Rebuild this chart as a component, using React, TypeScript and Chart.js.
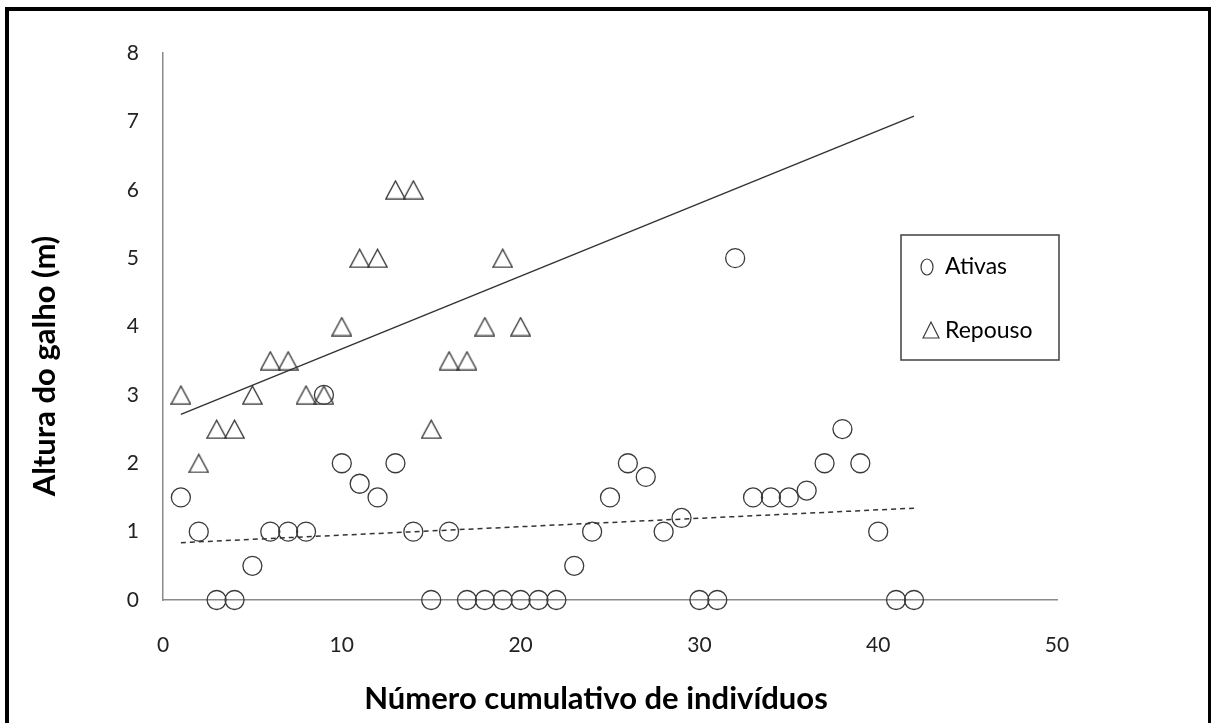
import React, { useEffect, useRef } from "react";
import { Chart, registerables } from "chart.js";

Chart.register(...registerables);

// ---- data ----
const ativasIndividuos = [
  1, 2, 3, 4, 5, 6, 7, 8, 9, 10, 11, 12, 13, 14, 15, 16, 17, 18, 19, 20, 21,
  22, 23, 24, 25, 26, 27, 28, 29, 30, 31, 32, 33, 34, 35, 36, 37, 38, 39, 40, 41, 42,
];
const ativasAltura = [
  1.5, 1, 0, 0, 0.5, 1, 1, 1, 3, 2, 1.7, 1.5, 2, 1, 0, 1, 0, 0, 0, 0, 0,
  0, 0.5, 1, 1.5, 2, 1.8, 1, 1.2, 0, 0, 5, 1.5, 1.5, 1.5, 1.6, 2, 2.5, 2, 1, 0, 0,
];
const repousoIndividuos = [1, 2, 3, 4, 5, 6, 7, 8, 9, 10, 11, 12, 13, 14, 15, 16, 17, 18, 19, 20];
const repousoAltura = [3, 2, 2.5, 2.5, 3, 3.5, 3.5, 3, 3, 4, 5, 5, 6, 6, 2.5, 3.5, 3.5, 4, 5, 4];
const trendRange = [1, 42];
const xTicks = [0, 10, 20, 30, 40, 50];
const yTicks = [0, 1, 2, 3, 4, 5, 6, 7, 8];
const seriesLabels = ["Ativas", "Repouso"];
const xTitle = "Número cumulativo de indivíduos";
const yTitle = "Altura do galho (m)";

const FONT = "Lato, 'Open Sans', sans-serif";
const INK = "#3a3a3a";

function linearFit(xs: number[], ys: number[]) {
  const n = xs.length;
  const mx = xs.reduce((a, b) => a + b, 0) / n;
  const my = ys.reduce((a, b) => a + b, 0) / n;
  let sxy = 0;
  let sxx = 0;
  for (let i = 0; i < n; i++) {
    sxy += (xs[i] - mx) * (ys[i] - my);
    sxx += (xs[i] - mx) * (xs[i] - mx);
  }
  const slope = sxy / sxx;
  const intercept = my - slope * mx;
  return (x: number) => intercept + slope * x;
}

function makeTriangle(w: number, h: number, color: string, lw: number) {
  const c = document.createElement("canvas");
  c.width = w;
  c.height = h;
  const ctx = c.getContext("2d")!;
  ctx.strokeStyle = color;
  ctx.lineWidth = lw;
  ctx.lineJoin = "miter";
  ctx.beginPath();
  ctx.moveTo(lw / 2 + 0.2, h - lw / 2 - 0.2);
  ctx.lineTo(w / 2, lw / 2 + 0.5);
  ctx.lineTo(w - lw / 2 - 0.2, h - lw / 2 - 0.2);
  ctx.closePath();
  ctx.stroke();
  return c;
}

const titlesLegendPlugin = {
  id: "titlesLegend",
  afterDraw(chart: any) {
    const ctx = chart.ctx as CanvasRenderingContext2D;
    ctx.save();
    // axis titles
    ctx.fillStyle = "#000";
    ctx.font = `bold 31px ${FONT}`;
    ctx.textAlign = "center";
    ctx.textBaseline = "middle";
    ctx.fillText(xTitle, 587, 688);
    ctx.translate(36, 355);
    ctx.rotate(-Math.PI / 2);
    ctx.fillText(yTitle, 0, 0);
    ctx.restore();

    // legend box
    ctx.save();
    const bx = 892;
    const by = 224;
    const bw = 158;
    const bh = 125;
    ctx.strokeStyle = "#404040";
    ctx.lineWidth = 1.5;
    ctx.strokeRect(bx, by, bw, bh);
    ctx.fillStyle = "#000";
    ctx.font = `23px ${FONT}`;
    ctx.textAlign = "left";
    ctx.textBaseline = "alphabetic";
    // circle item
    ctx.strokeStyle = INK;
    ctx.lineWidth = 1.2;
    ctx.beginPath();
    ctx.ellipse(bx + 26, by + 32, 6, 8, 0, 0, Math.PI * 2);
    ctx.stroke();
    ctx.fillText(seriesLabels[0], bx + 44, by + 39);
    // triangle item
    ctx.beginPath();
    ctx.moveTo(bx + 22, by + 103);
    ctx.lineTo(bx + 30, by + 87);
    ctx.lineTo(bx + 38, by + 103);
    ctx.closePath();
    ctx.stroke();
    ctx.fillText(seriesLabels[1], bx + 44, by + 103);
    ctx.restore();
  },
};

export default function App() {
  const ref = useRef<HTMLCanvasElement>(null);

  useEffect(() => {
    const canvas = ref.current;
    if (!canvas) return;
    const tri = makeTriangle(21, 20, INK, 1.3);
    const fitRep = linearFit(repousoIndividuos, repousoAltura);
    const fitAt = linearFit(ativasIndividuos, ativasAltura);

    const chart = new Chart(canvas, {
      type: "scatter",
      data: {
        datasets: [
          {
            type: "line",
            label: "trend-" + seriesLabels[1],
            data: trendRange.map((x) => ({ x, y: fitRep(x) })),
            borderColor: "#333",
            borderWidth: 1.5,
            pointRadius: 0,
            fill: false,
            clip: false,
          } as any,
          {
            type: "line",
            label: "trend-" + seriesLabels[0],
            data: trendRange.map((x) => ({ x, y: fitAt(x) })),
            borderColor: "#333",
            borderWidth: 1.5,
            borderDash: [5, 4],
            pointRadius: 0,
            fill: false,
            clip: false,
          } as any,
          {
            label: seriesLabels[0],
            data: ativasIndividuos.map((x, i) => ({ x, y: ativasAltura[i] })),
            pointStyle: "circle",
            pointRadius: 9.5,
            borderWidth: 1.3,
            borderColor: INK,
            backgroundColor: "rgba(0,0,0,0)",
            clip: false,
          } as any,
          {
            label: seriesLabels[1],
            data: repousoIndividuos.map((x, i) => ({ x, y: repousoAltura[i] })),
            pointStyle: tri,
            pointRadius: 10,
            borderColor: INK,
            backgroundColor: "rgba(0,0,0,0)",
            clip: false,
          } as any,
        ],
      },
      options: {
        animation: false,
        responsive: false,
        devicePixelRatio: 1,
        events: [],
        layout: { padding: { top: 42, right: 151, left: 0, bottom: 0 } },
        plugins: {
          legend: { display: false },
          tooltip: { enabled: false },
        },
        scales: {
          x: {
            type: "linear",
            position: "bottom",
            min: 0,
            max: 50,
            grid: { display: false, drawTicks: false },
            border: { display: true, color: "#8a8a8a", width: 1.5 },
            ticks: {
              padding: 33,
              color: "#222",
              font: { family: FONT, size: 21 },
            },
            afterBuildTicks: (s: any) => {
              s.ticks = xTicks.map((v) => ({ value: v }));
            },
            afterFit: (s: any) => {
              s.height = 127;
            },
          },
          y: {
            type: "linear",
            min: 0,
            max: 8,
            grid: { display: false, drawTicks: false },
            border: { display: true, color: "#8a8a8a", width: 1.5 },
            ticks: {
              padding: 24,
              color: "#222",
              font: { family: FONT, size: 21 },
            },
            afterBuildTicks: (s: any) => {
              s.ticks = yTicks.map((v) => ({ value: v }));
            },
            afterFit: (s: any) => {
              s.width = 154;
            },
          },
        },
      } as any,
      plugins: [titlesLegendPlugin],
    });
    return () => chart.destroy();
  }, []);

  return (
    <div
      style={{
        position: "fixed",
        left: 5,
        top: 7,
        width: 1206,
        height: 724,
        borderLeft: "4px solid #000",
        borderTop: "4px solid #000",
        borderRight: "3px solid #000",
        borderBottom: "4px solid #000",
        boxSizing: "border-box",
        background: "#fff",
        overflow: "hidden",
      }}
    >
      <canvas ref={ref} width={1199} height={716} style={{ display: "block" }} />
    </div>
  );
}
